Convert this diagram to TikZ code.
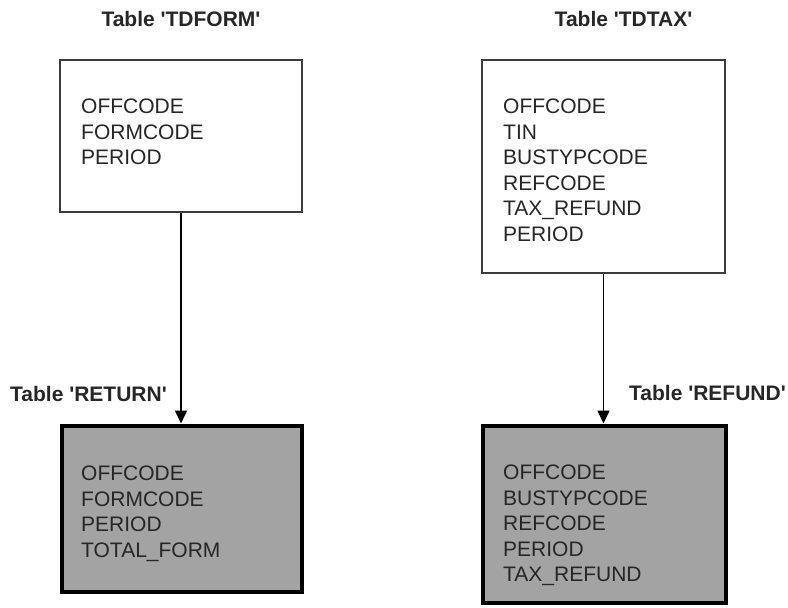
\documentclass[tikz,border=0pt]{standalone}
\usepackage{fontspec}
\setmainfont{Liberation Sans}
\usetikzlibrary{arrows.meta}
\definecolor{boxgray}{RGB}{163,163,163}
\definecolor{thinline}{RGB}{60,60,60}
\begin{document}
\begin{tikzpicture}[x=1pt,y=-1pt,
  srcbox/.style={draw=thinline, line width=1.3pt, fill=white, rectangle, inner sep=0pt},
  dstbox/.style={draw=black, line width=4pt, fill=boxgray, rectangle, inner sep=0pt},
  fields/.style={anchor=north west, inner sep=0pt, align=left, font=\fontsize{21}{25.5}\selectfont, text=black!85},
  title/.style={inner sep=0pt, font=\fontsize{21}{25}\selectfont\bfseries, text=black!85},
  arr/.style={line width=1.6pt, -{Triangle[width=12pt,length=13pt]}}]
\useasboundingbox (0,0) rectangle (788,608);
% boxes
\node[srcbox, minimum width=242pt, minimum height=152pt] (tdform) at (181,136) {};
\node[srcbox, minimum width=243pt, minimum height=213pt] (tdtax) at (603.5,166.5) {};
\node[dstbox, minimum width=240pt, minimum height=166pt] (return) at (181.5,508.5) {};
\node[dstbox, minimum width=243pt, minimum height=177pt] (refund) at (604,514) {};
% titles
\node[title, anchor=base] (t1) at (181,26) {Table \textquotesingle TDFORM\textquotesingle};
\node[title, anchor=base] (t2) at (623.5,26) {Table \textquotesingle TDTAX\textquotesingle};
\node[title, anchor=base west] (t3) at (10,401) {Table \textquotesingle RETURN\textquotesingle};
\node[title, anchor=base east] (t4) at (786,400) {Table \textquotesingle REFUND\textquotesingle};
% fields
\node[fields] (f1) at (81,99) {OFFCODE\\FORMCODE\\PERIOD};
\node[fields] (f2) at (503,99) {OFFCODE\\TIN\\BUSTYPCODE\\REFCODE\\TAX\_REFUND\\PERIOD};
\node[fields] (f3) at (81,466) {OFFCODE\\FORMCODE\\PERIOD\\TOTAL\_FORM};
\node[fields] (f4) at (503,465) {OFFCODE\\BUSTYPCODE\\REFCODE\\PERIOD\\TAX\_REFUND};
% connectors
\draw[arr] (tdform.south) -- (tdform.south |- return.north);
\draw[arr] (tdtax.south) -- (tdtax.south |- refund.north);
\end{tikzpicture}
\end{document}
